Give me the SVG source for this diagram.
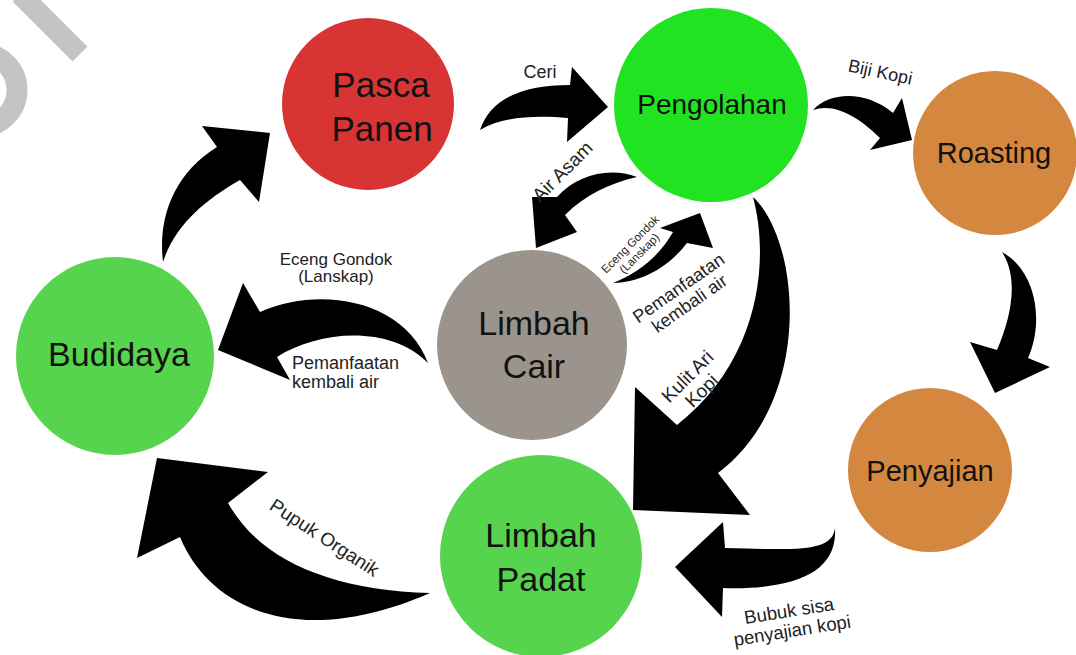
<svg xmlns="http://www.w3.org/2000/svg" width="1076" height="655" viewBox="0 0 1076 655">
<style>
.n{font-family:"Liberation Sans",Arial,sans-serif;fill:#111;text-anchor:middle}
.l{font-family:"Liberation Sans",Arial,sans-serif;fill:#222;text-anchor:middle}
.s{text-anchor:start}
.a{fill:#000}
</style>
<rect width="1076" height="655" fill="#fff"/>
<g id="watermark" fill="none" stroke="#c4c4c4" stroke-width="21">
<path d="M20,-6 L80,54"/>
<circle cx="-20" cy="90" r="37"/>
</g>
<g id="pasca-panen">
<circle cx="368" cy="104" r="86" fill="#d83434"/>
<text class="n" x="381" y="97" font-size="35">Pasca</text>
<text class="n" x="382" y="141" font-size="35">Panen</text>
</g>
<g id="pengolahan">
<circle cx="711" cy="105" r="97" fill="#22e322"/>
<text class="n" x="712" y="114" font-size="28">Pengolahan</text>
</g>
<g id="roasting">
<circle cx="995" cy="153" r="82" fill="#d4873f"/>
<text class="n" x="994" y="163" font-size="29">Roasting</text>
</g>
<g id="budidaya">
<circle cx="115" cy="356" r="99" fill="#57d44d"/>
<text class="n" x="119" y="366" font-size="34">Budidaya</text>
</g>
<g id="limbah-cair">
<circle cx="532" cy="345" r="95" fill="#9b948d"/>
<text class="n" x="534" y="335" font-size="34">Limbah</text>
<text class="n" x="534" y="378" font-size="34">Cair</text>
</g>
<g id="penyajian">
<circle cx="930" cy="470" r="82" fill="#d4873f"/>
<text class="n" x="930" y="481" font-size="29">Penyajian</text>
</g>
<g id="limbah-padat">
<circle cx="541" cy="556" r="101" fill="#57d44d"/>
<text class="n" x="541" y="547" font-size="34">Limbah</text>
<text class="n" x="541" y="591" font-size="34">Padat</text>
</g>
<g id="connectors">
<path class="a" d="M163,262 C158,220 172,175 217,147 L202,126 L270,133 L259,202 L240,180 C205,200 175,225 163,262 Z"/>
<path class="a" d="M480,130 C490,100 520,85 570,85 L572,67 L608,107 L567,142 L568,118 C540,116 505,115 480,130 Z"/>
<path class="a" d="M813,110 C830,92 865,90 893,113 L902,98 L912,140 L870,150 L880,138 C860,118 835,102 813,110 Z"/>
<path class="a" d="M1002,252 C1035,270 1045,320 1028,358 L1050,367 L995,393 L970,342 L997,350 C1010,320 1020,280 1002,252 Z"/>
<path class="a" d="M637,177 C610,167 578,174 557,197 L532,197 L536,248 L577,232 L565,215 C585,195 610,183 637,177 Z"/>
<path class="a" d="M613,283 C645,282 670,265 687,243 L713,248 L700,213 L660,228 L673,232 C660,255 640,272 613,283 Z"/>
<path class="a" d="M428,363 C405,300 320,285 260,312 L243,283 L218,350 L290,380 L277,357 C320,330 390,325 428,363 Z"/>
<path class="a" d="M753,197 C800,240 815,400 718,473 L750,515 L633,510 L635,387 L677,425 C760,360 770,260 753,197 Z"/>
<path class="a" d="M835,528 C832,552 800,550 725,548 L723,522 L675,567 L722,617 L723,588 C790,590 838,575 835,528 Z"/>
<path class="a" d="M430,593 C330,590 260,560 228,503 L268,472 L157,458 L137,558 L180,537 C210,610 300,650 430,593 Z"/>
</g>
<g id="labels">
<text class="l" x="540" y="78" font-size="18">Ceri</text>
<text class="l" transform="translate(879,78) rotate(12)" font-size="18">Biji Kopi</text>
<text class="l" transform="translate(567,176) rotate(-45)" font-size="19">Air Asam</text>
<text class="l" transform="translate(633,247) rotate(-45)" font-size="11.5"><tspan x="0" y="0">Eceng Gondok</tspan><tspan x="0" y="13">(Lanskap)</tspan></text>
<text class="l" transform="translate(682,293) rotate(-35)" font-size="18"><tspan x="0" y="0">Pemanfaatan</tspan><tspan x="0" y="19">kembali air</tspan></text>
<text class="l" transform="translate(692,381) rotate(-45)" font-size="19"><tspan x="0" y="0">Kulit Ari</tspan><tspan x="0" y="20">Kopi</tspan></text>
<text class="l" x="336" y="265" font-size="17">Eceng Gondok</text>
<text class="l" x="336" y="282" font-size="17">(Lanskap)</text>
<text class="l s" x="292" y="369" font-size="18">Pemanfaatan</text>
<text class="l s" x="292" y="388" font-size="18">kembali air</text>
<text class="l" transform="translate(321,543) rotate(33)" font-size="19">Pupuk Organik</text>
<text class="l" transform="translate(790,617) rotate(-9)" font-size="18.5"><tspan x="0" y="0">Bubuk sisa</tspan><tspan x="0" y="20">penyajian kopi</tspan></text>
</g>
</svg>
